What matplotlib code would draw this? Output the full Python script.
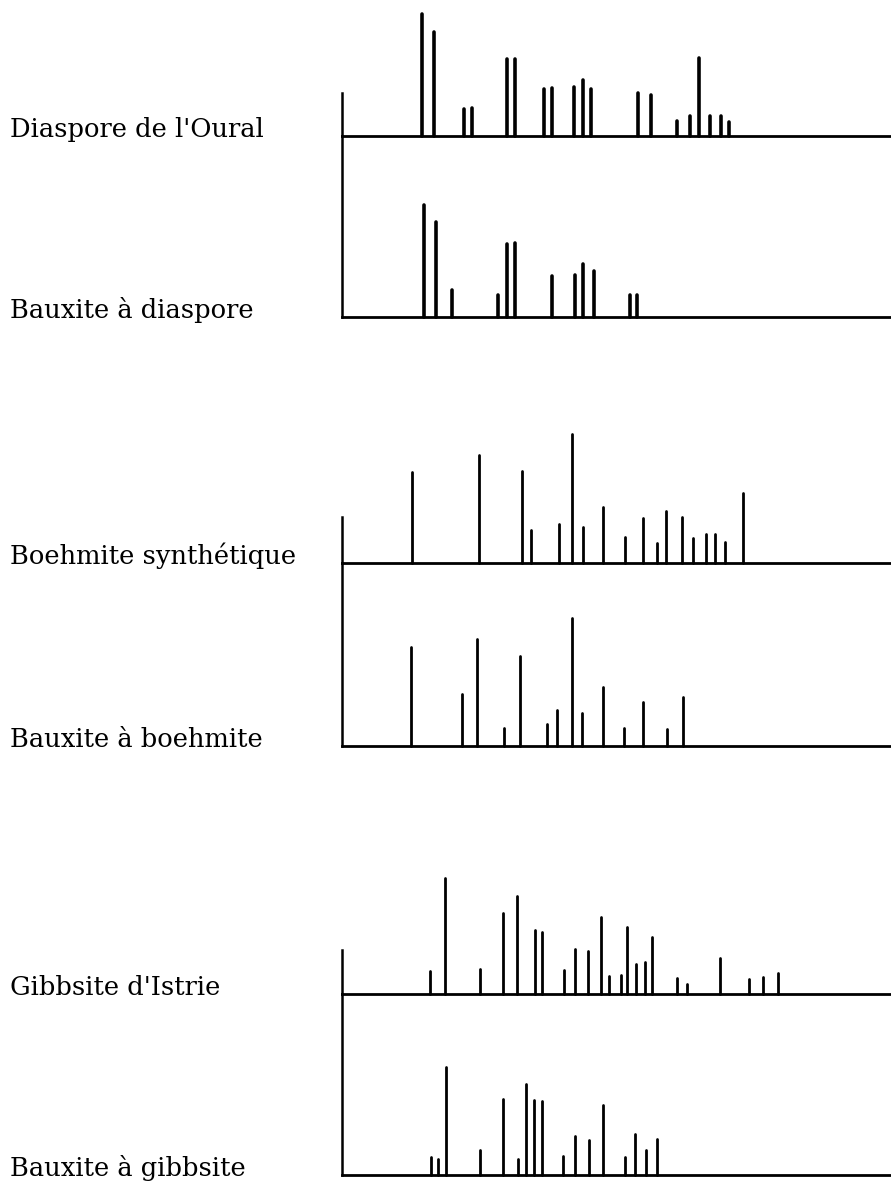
import matplotlib.pyplot as plt

# names of the samples, top to bottom
labels = ["Diaspore de l'Oural", "Bauxite à diaspore",
          "Boehmite synthétique", "Bauxite à boehmite",
          "Gibbsite d'Istrie", "Bauxite à gibbsite"]

# line positions (arbitrary units from the left axis) and intensities
pos_diaspore = [79.7, 92, 122, 129.7, 165, 173, 202, 209.7, 232.3, 240.7, 249.3,
                296.3, 309, 335, 347.7, 356.7, 367.7, 378.7, 387.3]
int_diaspore = [122, 104, 27, 28, 77, 77, 47, 48, 49, 56, 47, 43, 41, 15, 20, 78, 20, 20, 14]

pos_baux_diaspore = [82.3, 93.7, 110.3, 156.3, 165, 173, 210.3, 233, 241.3, 252.3, 287.7, 295.3]
int_baux_diaspore = [112, 95, 27, 22, 73, 74, 41, 42, 53, 46, 22, 22]

pos_boehmite = [70.3, 137.3, 180.3, 189, 216.7, 230.3, 241, 261, 283, 301.3, 315, 324.3,
                340.3, 351.3, 364.3, 373.3, 383.3, 401]
int_boehmite = [91, 108, 92, 33, 39, 129, 36, 56, 26, 45, 20, 52, 46, 25, 29, 29, 21, 70]

pos_baux_boehmite = [68.7, 120, 134.7, 162.3, 178, 205, 215, 230, 240.3, 260.7, 282.3, 301, 324.7, 340.7]
int_baux_boehmite = [99, 52, 107, 18, 90, 22, 36, 128, 33, 59, 18, 44, 17, 49]

pos_gibbsite = [87.7, 103.3, 138.3, 161.3, 175, 192.7, 200.3, 222, 232.7, 246.3, 259.3, 266.7,
                279.3, 285.3, 294, 303.3, 309.7, 334.7, 345.3, 378, 407.3, 421.3, 435.7]
int_gibbsite = [23, 116, 25, 81, 98, 64, 62, 24, 45, 43, 77, 18, 19, 67, 30, 32, 57, 16, 10,
                36, 15, 17, 21]

pos_baux_gibbsite = [88.7, 96.3, 104, 138, 161.3, 175.7, 183.7, 192.3, 200, 221.3, 233, 247,
                     261, 283, 293, 304.3, 315]
int_baux_gibbsite = [18, 16, 108, 25, 76, 16, 91, 75, 74, 19, 39, 35, 70, 18, 41, 25, 36]

spectra = [(pos_diaspore, int_diaspore), (pos_baux_diaspore, int_baux_diaspore),
           (pos_boehmite, int_boehmite), (pos_baux_boehmite, int_baux_boehmite),
           (pos_gibbsite, int_gibbsite), (pos_baux_gibbsite, int_baux_gibbsite)]

W, H = 891, 1182
# axes boxes in pixels: (top, bottom)
boxes = [(0, 136), (136, 316.7), (400, 563.3), (563.3, 745.7), (840, 994.3), (994.3, 1174.7)]
left_tick = [43, None, 46, None, 44, None]
line_w = [2.6, 2.6, 2.0, 2.0, 2.0, 2.0]
x0 = 342

fig = plt.figure(figsize=(W / 100, H / 100), dpi=100)

for i, (pos, inten) in enumerate(spectra):
    top, bot = boxes[i]
    ax = fig.add_axes([x0 / W, 1 - bot / H, (W - x0) / W, (bot - top) / H])
    ax.vlines(pos, 0, inten, color='black', linewidth=line_w[i], capstyle='round', clip_on=False)
    ax.set_xlim(0, W - x0)
    ax.set_ylim(0, bot - top)
    ax.patch.set_alpha(0)
    for s in ['top', 'right']:
        ax.spines[s].set_visible(False)
    ax.spines['bottom'].set_linewidth(2.0)
    ax.spines['left'].set_linewidth(1.8)
    if left_tick[i] is not None:
        ax.spines['left'].set_bounds(0, left_tick[i])
    ax.set_xticks([])
    ax.set_yticks([])
    fig.text(10 / W, 1 - (bot + 1) / H, labels[i], fontsize=18.5,
             family='DejaVu Serif', va='baseline', ha='left')

fig.savefig('out.png', dpi=100, facecolor='white')
